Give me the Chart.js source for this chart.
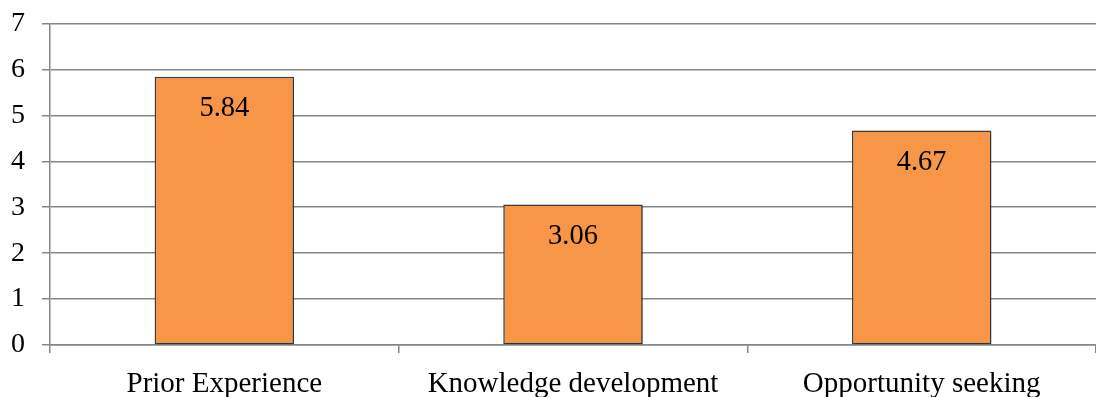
<!DOCTYPE html>
<html>
<head>
<meta charset="utf-8">
<script src="https://cdn.jsdelivr.net/npm/chart.js@4/dist/chart.umd.min.js"></script>
<style>
html,body{margin:0;padding:0;background:#fff;}
#wrap{width:1096px;height:397px;position:relative;}
</style>
</head>
<body>
<div id="wrap"><canvas id="c"></canvas></div>
<script>
const categories = ["Prior Experience", "Knowledge development", "Opportunity seeking"];
const values = [5.84, 3.06, 4.67];
const yTicks = [0, 1, 2, 3, 4, 5, 6, 7];

const SERIF = '"Liberation Serif", "Times New Roman", serif';

const labelPlugin = {
  id: 'barLabels',
  afterDatasetsDraw(chart) {
    const ctx = chart.ctx;
    const meta = chart.getDatasetMeta(0);
    ctx.save();
    ctx.font = '28.5px ' + SERIF;
    ctx.fillStyle = '#000';
    ctx.textAlign = 'center';
    ctx.textBaseline = 'middle';
    meta.data.forEach((bar, i) => {
      ctx.fillText(values[i].toFixed(2), bar.x, bar.y + 32);
    });
    ctx.restore();
  }
};

const shadowPlugin = {
  id: 'barShadow',
  beforeDatasetsDraw(chart) {
    const ctx = chart.ctx;
    ctx.save();
    ctx.shadowColor = 'rgba(0,0,0,0.35)';
    ctx.shadowBlur = 3;
    ctx.shadowOffsetX = 1.5;
    ctx.shadowOffsetY = 1.5;
  },
  afterDatasetsDraw(chart) {
    chart.ctx.restore();
  }
};

new Chart(document.getElementById('c'), {
  type: 'bar',
  data: {
    labels: categories,
    datasets: [{
      data: values,
      backgroundColor: '#F79646',
      borderColor: '#3f3f3f',
      borderWidth: 1.5,
      borderSkipped: false,
      categoryPercentage: 1.0,
      barPercentage: 0.4
    }]
  },
  options: {
    responsive: true,
    maintainAspectRatio: false,
    animation: false,
    layout: { padding: { top: 23.5, right: 0, left: 0, bottom: 0 } },
    plugins: { legend: { display: false }, tooltip: { enabled: false } },
    scales: {
      x: {
        grid: { drawOnChartArea: false, color: '#868686', lineWidth: 1.5, tickLength: 8, offset: true },
        border: { display: true, color: '#868686', width: 1.5 },
        ticks: {
          color: '#000',
          font: { family: SERIF, size: 29 },
          padding: 14,
          maxRotation: 0
        },
        afterFit(axis) { axis.height = 52; }
      },
      y: {
        min: 0, max: 7,
        afterBuildTicks(axis) { axis.ticks = yTicks.map(v => ({ value: v })); },
        grid: { color: '#868686', lineWidth: 1.5, tickLength: 8 },
        border: { display: true, color: '#868686', width: 1.5 },
        ticks: {
          color: '#000',
          font: { family: SERIF, size: 28 },
          padding: 17
        },
        afterFit(axis) { axis.width = 50; axis.paddingTop = 0; axis.paddingBottom = 0; }
      }
    }
  },
  plugins: [shadowPlugin, labelPlugin]
});
</script>
</body>
</html>
